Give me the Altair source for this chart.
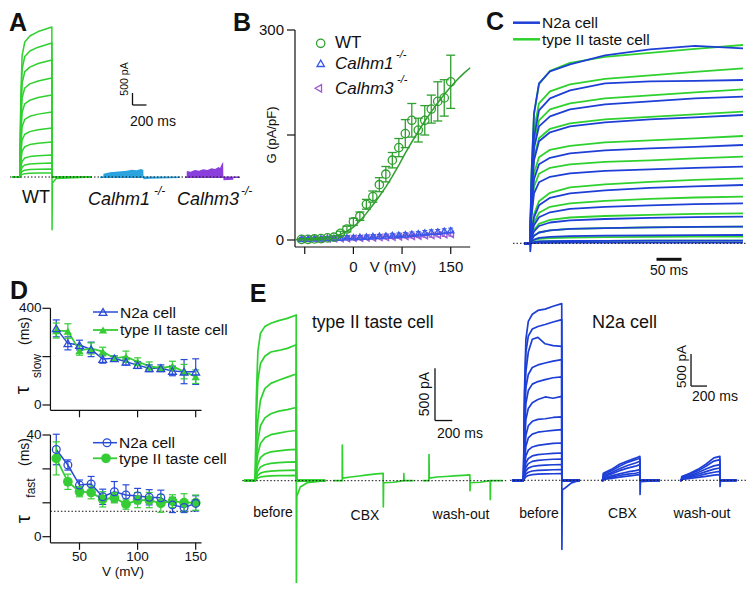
import altair as alt
import pandas as pd

# ============================ DATA ============================
# ---------- Panel A : whole-cell currents (pA) vs time (ms) ----------
A_WT_T = [30, 140, 154, 173, 211, 283, 402, 598, 600, 1170]
A_WT = {
    "wt1": [0, 0, 3250, 5060, 5625, 5875, 6060, 6250, 0, 0],
    "wt2": [0, 0, 2900, 4500, 5020, 5250, 5410, 5580, 0, 0],
    "wt3": [0, 0, 2440, 3900, 4390, 4580, 4730, 4875, 0, 0],
    "wt4": [0, 0, 2060, 3300, 3710, 3880, 4000, 4125, 0, 0],
    "wt5": [0, 0, 1650, 2700, 3050, 3200, 3310, 3420, 0, 0],
    "wt6": [0, 0, 1250, 2100, 2400, 2530, 2620, 2710, 0, 0],
    "wt7": [0, 0, 900, 1550, 1780, 1890, 1970, 2040, 0, 0],
    "wt8": [0, 0, 600, 1080, 1260, 1350, 1410, 1460, 0, 0],
    "wt9": [0, 0, 370, 660, 790, 850, 890, 917, 0, 0],
    "wt10": [0, 0, 230, 410, 500, 540, 565, 583, 0, 0],
    "wt11": [0, 0, 130, 230, 285, 310, 325, 333, 0, 0],
    "wt12": [0, 0, 60, 110, 140, 155, 162, 167, 0, 0],
}
A_WT_TAIL_T = [600, 601, 606, 660, 1170]
A_WT_TAIL = [0, -2200, -250, -60, 0]
A_C1_T = [1286, 1333, 1335, 1430, 1550, 1670, 1740, 1810, 1870, 1905, 1907, 2000, 2429]
A_C1_TOP = [25, 25, 140, 200, 230, 260, 300, 280, 330, 290, 25, 25, 25]
A_C1_BOT = [-45, -45, -45, -45, -45, -45, -45, -45, -45, -45, -90, -70, -45]
A_C3_T = [2500, 2524, 2526, 2580, 2640, 2700, 2760, 2820, 2880, 2930, 2980, 3000, 3030,
          3045, 3048, 3050, 3190, 3192, 3286]
A_C3_TOP = [25, 25, 250, 220, 290, 260, 320, 290, 360, 330, 420, 380, 560, 625, 25, 25, 25, 25, 25]
A_C3_BOT = [-45, -45, -45, -45, -45, -45, -45, -45, -45, -45, -45, -45, -45, -45, -45,
            -140, -110, -45, -45]
A_ZERO = [0, 3286]
A_BAR_X, A_BAR_X2 = [1750, 1750], [1750, 1950]      # 200 ms
A_BAR_Y, A_BAR_Y2 = [3000, 3000], [3500, 3000]      # 500 pA

# ---------- Panel B : G-V relation ----------
B_V = [-80, -70, -60, -50, -40, -30, -20, -10, 0, 10, 20, 30, 40, 50, 60, 70, 80, 90,
       100, 110, 120, 130, 140, 150]
B_WT = [1, 1, 1.5, 2, 3, 4, 9.5, 15.7, 26, 34, 51, 62, 79, 94, 114, 132, 152, 171,
        157, 171, 187, 198, 203, 226]
B_WT_SEM = [1, 1, 1, 1.5, 1.5, 2, 3, 4, 5, 6, 7, 8, 10, 11, 11, 13, 20, 24, 17, 21, 20, 28, 26, 38]
B_C1 = [2, 2, 2.5, 2.5, 3, 3, 3.5, 4, 4, 4.5, 5, 5.5, 6, 6.5, 7, 7.5, 8, 9, 9.5, 10.5,
        11.5, 12, 13, 14]
B_C1_SEM = [1.5, 1.5, 1.5, 1.5, 1.5, 1.5, 2, 2, 2, 2, 2, 2, 2, 2, 2.5, 2.5, 2.5, 2.5,
            2.5, 3, 3, 3, 3, 3]
B_C3 = [1, 1, 1.5, 1.5, 1.5, 2, 2, 2, 2.5, 2.5, 3, 3, 3.5, 3.5, 4, 4.5, 5, 5, 5.5, 6,
        6.5, 7, 7.5, 8]
B_C3_SEM = [1, 1, 1, 1, 1, 1, 1.5, 1.5, 1.5, 1.5, 1.5, 1.5, 1.5, 2, 2, 2, 2, 2, 2, 2,
            2.5, 2.5, 2.5, 2.5]
B_FIT_V = [-90, -80, -70, -60, -50, -40, -30, -20, -10, 0, 10, 20, 30, 40, 50, 60, 70,
           80, 90, 100, 110, 120, 130, 140, 150, 160, 170, 180]
B_FIT = [0.5, 0.7, 1, 1.5, 2.3, 3.5, 5.3, 8, 12.5, 18.5, 27, 38, 50, 62.5, 76, 91, 107,
         124, 140, 155, 170, 183, 196, 208, 219, 229, 238, 246]
B_X_DOMAIN = [-90, 180]
B_Y_DOMAIN = [-10, 300]
B_XTICKS = [-75, 0, 75, 150]
B_XTICK_LABELS = ["", "0", "", "150"]
B_YTICKS = [0, 150, 300]
B_YTICK_LABELS = ["0", "", "300"]

# ---------- Panel C : superimposed currents ----------
C_T = [-12, 0, 3, 8, 18, 40, 80, 150, 240, 330, 426]
C_GREEN = {
    "g1": [0, 0, 690, 1290, 1590, 1725, 1805, 1865, 1905, 1945, 1983],
    "g2": [0, 0, 610, 1140, 1400, 1520, 1590, 1645, 1680, 1715, 1750],
    "g3": [0, 0, 540, 1000, 1230, 1340, 1400, 1450, 1480, 1510, 1540],
    "g4": [0, 0, 460, 860, 1050, 1145, 1200, 1240, 1265, 1290, 1317],
    "g5": [0, 0, 375, 700, 860, 935, 975, 1010, 1030, 1050, 1073],
    "g6": [0, 0, 300, 565, 695, 755, 790, 815, 830, 850, 867],
    "g7": [0, 0, 130, 290, 420, 505, 560, 590, 615, 635, 650],
    "g8": [0, 0, 95, 210, 305, 365, 400, 425, 445, 458, 467],
    "g9": [0, 0, 60, 135, 195, 235, 258, 273, 285, 294, 300],
    "g10": [0, 0, 35, 75, 108, 130, 144, 152, 159, 164, 167],
    "g11": [0, 0, 13, 30, 44, 52, 58, 61, 64, 66, 67],
    "g12": [0, 0, 5, 12, 18, 21, 23, 25, 26, 26, 27],
}
C_BLUE = {
    "b1": [0, 0, 700, 1300, 1600, 1720, 1790, 1880, 1940, 1975, 1950],
    "b2": [0, 0, 570, 1060, 1330, 1450, 1530, 1600, 1620, 1625, 1633],
    "b3": [0, 0, 510, 950, 1170, 1270, 1340, 1390, 1420, 1450, 1467],
    "b4": [0, 0, 450, 830, 1020, 1110, 1170, 1210, 1240, 1260, 1283],
    "b5": [0, 0, 340, 640, 790, 855, 900, 930, 950, 965, 983],
    "b6": [0, 0, 270, 500, 610, 665, 700, 725, 740, 755, 767],
    "b7": [0, 0, 115, 260, 380, 455, 500, 530, 555, 570, 583],
    "b8": [0, 0, 80, 180, 260, 310, 345, 365, 380, 392, 400],
    "b9": [0, 0, 53, 120, 173, 208, 230, 243, 254, 262, 267],
    "b10": [0, 0, 33, 75, 108, 130, 144, 152, 159, 164, 167],
    "b11": [0, 0, 17, 37, 54, 65, 71, 76, 79, 81, 83],
    "b12": [0, 0, 5, 12, 18, 21, 23, 25, 26, 26, 27],
    "b13": [0, 0, 1, 3, 5, 5, 6, 6, 7, 7, 7],
}
C_ONSET_T = [0, 0.5, 2]
C_ONSET = [0, -80, 0]
C_ZERO = [-34, 446]
C_BAR_X, C_BAR_X2, C_BAR_Y, C_BAR_Y2 = [253], [303], [-160], [-160]   # 50 ms

# ---------- Panel D : time constants (ms) vs V (mV) ----------
D_V = [30, 40, 50, 60, 70, 80, 90, 100, 110, 120, 130, 140, 150]
D_SLOW_N2A = [317, 255, 248, 230, 190, 193, 179, 165, 152, 152, 141, 138, 138]
D_SLOW_N2A_SEM = [35, 27, 20, 30, 17, 10, 14, 14, 14, 14, 20, 50, 53]
D_SLOW_TASTE = [308, 306, 225, 234, 221, 193, 200, 179, 161, 152, 161, 138, 117]
D_SLOW_TASTE_SEM = [31, 30, 19, 23, 18, 10, 23, 16, 17, 8, 20, 30, 28]
D_FAST_N2A = [34.3, 28.2, 20.3, 20.7, 15.7, 17.7, 16.4, 16.0, 15.5, 15.3, 12.5, 11.5, 13.1]
D_FAST_N2A_SEM = [6, 2, 2, 3, 3, 4, 4, 3, 3, 3, 3, 2, 3]
D_FAST_TASTE = [30.8, 21.6, 17.7, 17.4, 14.7, 15.3, 12.8, 14.4, 14.4, 13.1, 14.0, 13.4, 13.4]
D_FAST_TASTE_SEM = [6.5, 3, 2, 2.5, 3, 2, 2, 3, 3, 3.5, 2.5, 3.5, 3]
D_FAST_FLOOR = [25, 152, 10]
D_X_DOMAIN = [25, 155]
D1_Y_DOMAIN = [-22, 400]
D2_Y_DOMAIN = [-2.4, 40]
D_XTICKS = [50, 100, 150]
D_XTICK_LABELS = ["50", "100", "150"]
D1_YTICKS = [0, 200, 400]
D1_YTICK_LABELS = ["0", "", "400"]
D2_YTICKS = [0, 13.33, 26.67, 40]
D2_YTICK_LABELS = ["0", "", "", "40"]

# ---------- Panel E : CBX block ----------
E_G_T = [-131, 0, 12, 30, 60, 110, 180, 270, 370, 473, 475, 809]
E_G = {
    "g1": [0, 0, 790, 1235, 1410, 1473, 1505, 1530, 1552, 1584, 0, 0],
    "g2": [0, 0, 600, 960, 1120, 1190, 1230, 1245, 1265, 1300, 0, 0],
    "g3": [0, 0, 330, 580, 770, 880, 930, 960, 990, 1020, 0, 0],
    "g4": [0, 0, 210, 385, 525, 600, 640, 665, 680, 700, 0, 0],
    "g5": [0, 0, 140, 260, 355, 410, 440, 455, 470, 480, 0, 0],
    "g6": [0, 0, 85, 160, 220, 255, 275, 285, 295, 300, 0, 0],
    "g7": [0, 0, 50, 95, 130, 152, 165, 172, 177, 180, 0, 0],
    "g8": [0, 0, 28, 52, 72, 85, 92, 96, 98, 100, 0, 0],
    "g9": [0, 0, 14, 26, 36, 42, 46, 48, 49, 50, 0, 0],
}
E_G_TAIL_T = [474, 475, 480, 520, 600, 809]
E_G_TAIL = [0, -1020, -150, -60, -20, 0]
E_G_CBX_T = [898, 1005, 1006, 1009, 1100, 1200, 1300, 1400, 1478, 1480, 1483, 1600, 1716, 1717, 1719, 1830]
E_G_CBX = [0, 0, 340, 25, 35, 45, 55, 65, 70, -250, -20, -15, 0, 67, 0, 0]
E_G_WASH_T = [1936, 2007, 2008, 2011, 2100, 2200, 2300, 2400, 2480, 2482, 2485, 2600, 2715, 2716, 2719, 2860]
E_G_WASH = [0, 0, 250, 25, 35, 40, 45, 50, 55, -95, -20, -15, 0, -180, 0, 0]
E_G_ZERO = [-150, 2900]
E_G_BAR_X, E_G_BAR_X2 = [2077, 2077], [2077, 2277]
E_G_BAR_Y, E_G_BAR_Y2 = [575, 575], [1075, 575]

E_B_T = [-144, 0, 12, 30, 60, 110, 180, 270, 370, 478, 480, 706]
E_B = {
    "b1": [0, 0, 1380, 2200, 2480, 2590, 2650, 2670, 2715, 2757, 0, 0],
    "b2": [0, 0, 1250, 2000, 2250, 2360, 2400, 2430, 2470, 2507, 0, 0],
    "b3": [0, 0, 1050, 1700, 2000, 2200, 2230, 2130, 2100, 2090, 0, 0],
    "b4": [0, 0, 900, 1450, 1650, 1760, 1800, 1830, 1860, 1883, 0, 0],
    "b5": [0, 0, 700, 1200, 1400, 1500, 1540, 1570, 1600, 1612, 0, 0],
    "b6": [0, 0, 540, 950, 1120, 1210, 1260, 1300, 1280, 1310, 0, 0],
    "b7": [0, 0, 380, 700, 850, 920, 950, 960, 980, 988, 0, 0],
    "b8": [0, 0, 280, 530, 660, 720, 750, 765, 780, 791, 0, 0],
    "b9": [0, 0, 200, 380, 470, 520, 545, 560, 575, 582, 0, 0],
    "b10": [0, 0, 140, 270, 340, 380, 400, 410, 420, 426, 0, 0],
    "b11": [0, 0, 100, 200, 260, 295, 310, 320, 328, 332, 0, 0],
    "b12": [0, 0, 70, 145, 190, 215, 230, 238, 242, 245, 0, 0],
    "b13": [0, 0, 45, 95, 125, 145, 155, 160, 164, 167, 0, 0],
    "b14": [0, 0, 25, 55, 75, 88, 95, 99, 102, 104, 0, 0],
}
E_B_TAIL_T = [479, 480, 486, 520, 600, 706]
E_B_TAIL = [0, -1077, -150, -120, -40, 0]
E_B_CBX_T = [978, 997, 998, 1100, 1200, 1300, 1400, 1455, 1456, 1706]
E_B_CBX = {
    "c1": [0, 0, 110, 170, 250, 300, 345, 374, 0, 0],
    "c2": [0, 0, 90, 150, 220, 280, 320, 343, 0, 0],
    "c3": [0, 0, 70, 120, 180, 230, 270, 296, 0, 0],
    "c4": [0, 0, 55, 100, 150, 190, 220, 245, 0, 0],
    "c5": [0, 0, 40, 70, 100, 130, 150, 167, 0, 0],
    "c6": [0, 0, 25, 50, 75, 95, 110, 125, 0, 0],
    "c7": [0, 0, 15, 30, 50, 65, 80, 89, 0, 0],
}
E_B_CBX_TAIL_T = [1456, 1457, 1462, 1706]
E_B_CBX_TAIL = [0, -220, -20, 0]
E_B_WASH_T = [1956, 1977, 1978, 2080, 2180, 2280, 2380, 2455, 2456, 2665]
E_B_WASH = {
    "w1": [0, 0, 60, 110, 170, 250, 350, 374, 0, 0],
    "w2": [0, 0, 50, 95, 150, 220, 300, 323, 0, 0],
    "w3": [0, 0, 40, 75, 120, 175, 225, 245, 0, 0],
    "w4": [0, 0, 30, 60, 95, 135, 175, 192, 0, 0],
    "w5": [0, 0, 20, 45, 70, 100, 125, 140, 0, 0],
    "w6": [0, 0, 12, 28, 45, 62, 80, 89, 0, 0],
}
E_B_WASH_TAIL_T = [2456, 2457, 2462, 2665]
E_B_WASH_TAIL = [0, -95, -10, 0]
E_B_ZERO = [-169, 2806]
E_B_BAR_X, E_B_BAR_X2 = [2094, 2094], [2094, 2294]
E_B_BAR_Y, E_B_BAR_Y2 = [1470, 1470], [1970, 1470]

# ============================ STYLE / LAYOUT ============================
M = 8                      # page margin (reference image pixel -> chart pixel)
W, H = 739, 575
FONT = "Liberation Sans"
BLACK = "#111111"
GREEN = "#2fd12f"
GREEN_B = "#2f9f2f"
DGREEN = "#35cc35"
BLUE = "#1e3fd6"
BLUE_B = "#3957e8"
DBLUE = "#2a4bd8"
PURPLE = "#8a3fdc"
PURPLE_B = "#9a5ad6"
CYAN = "#2aa3de"


def R(a, b):
    return [a - M, b - M]


def S(domain, rng):
    return alt.Scale(domain=domain, range=rng, nice=False, zero=False)


SA_X = S([0, 3300], R(10, 241))
SA_Y = S([-2500, 7000], R(237, 9))
SB_X = S(B_X_DOMAIN, R(295, 470.2))
SB_Y = S(B_Y_DOMAIN, R(247, 30))
SC_X = S([-34, 446], R(513, 753))
SC_Y = S([-300, 2200], R(273.3, 23.3))
SD_X = S(D_X_DOMAIN, R(50.45, 201.5))
SD1_Y = S(D1_Y_DOMAIN, R(410.3, 308.3))
SD2_Y = S(D2_Y_DOMAIN, R(542.8, 435))
SEG_X = S([-150, 2900], R(242.3, 506.2))
SEG_Y = S([-1200, 1800], R(606.2, 292.4))
SEB_X = S([-170, 2860], R(509.9, 752.3))
SEB_Y = S([-1200, 3000], R(557.2, 288))


def ax_x(sx):
    return alt.X("x:Q", scale=sx, axis=None)


def ax_y(sy, field="y"):
    return alt.Y(f"{field}:Q", scale=sy, axis=None)


def x_axis(ticks, labels, sx, sy, xdom, ydom, fs, tick=7, label_dy=14):
    """Igor-style bottom axis drawn along the lower edge of the y domain."""
    line = alt.Chart(pd.DataFrame({"x": [xdom[0]], "x2": [xdom[1]], "y": [ydom[0]]})).mark_rule(
        color=BLACK, strokeWidth=1.2).encode(x=ax_x(sx), x2="x2:Q", y=ax_y(sy), y2="y:Q")
    tdf = pd.DataFrame({"x": ticks, "y": [ydom[0]] * len(ticks), "lab": labels})
    tk = alt.Chart(tdf).mark_tick(orient="vertical", size=tick, thickness=1.2, color=BLACK,
                                  opacity=1, yOffset=tick / 2).encode(x=ax_x(sx), y=ax_y(sy))
    lb = alt.Chart(tdf).mark_text(font=FONT, fontSize=fs, color=BLACK, baseline="middle",
                                  dy=label_dy).encode(x=ax_x(sx), y=ax_y(sy), text="lab:N")
    return [line, tk, lb]


def y_axis(ticks, labels, sx, sy, xdom, ydom, fs, tick=8, label_dx=-10):
    """Igor-style left axis drawn along the left edge of the x domain."""
    line = alt.Chart(pd.DataFrame({"x": [xdom[0]], "y": [ydom[0]], "y2": [ydom[1]]})).mark_rule(
        color=BLACK, strokeWidth=1.2).encode(x=ax_x(sx), x2="x:Q", y=ax_y(sy), y2="y2:Q")
    tdf = pd.DataFrame({"x": [xdom[0]] * len(ticks), "y": ticks, "lab": labels})
    tk = alt.Chart(tdf).mark_tick(orient="horizontal", size=tick, thickness=1.2, color=BLACK,
                                  opacity=1, xOffset=-tick / 2).encode(x=ax_x(sx), y=ax_y(sy))
    lb = alt.Chart(tdf).mark_text(font=FONT, fontSize=fs, color=BLACK, baseline="middle",
                                  align="right", dx=label_dx).encode(x=ax_x(sx), y=ax_y(sy), text="lab:N")
    return [line, tk, lb]


def long_df(t, traces, color):
    rows = []
    for name, vals in traces.items():
        for i, (ti, vi) in enumerate(zip(t, vals)):
            rows.append({"t": ti, "v": vi, "trace": f"{name}_{color}", "i": i, "c": color})
    return pd.DataFrame(rows)


def lines(df, sx, sy, width=1.4):
    return alt.Chart(df).mark_line(strokeWidth=width, strokeJoin="round").encode(
        x=alt.X("t:Q", scale=sx, axis=None),
        y=alt.Y("v:Q", scale=sy, axis=None),
        detail="trace:N", order="i:Q",
        color=alt.Color("c:N", scale=None))


def band(t, top, bot, color, sx, sy):
    df = pd.DataFrame({"t": t, "top": top, "bot": bot})
    return alt.Chart(df).mark_area(color=color, opacity=1).encode(
        x=alt.X("t:Q", scale=sx, axis=None),
        y=alt.Y("top:Q", scale=sy, axis=None), y2="bot:Q")


def zero_line(x0, x1, sx, sy, y=0):
    df = pd.DataFrame({"x": [x0], "x2": [x1], "y": [y]})
    return alt.Chart(df).mark_rule(color=BLACK, strokeDash=[1.5, 2], strokeWidth=1).encode(
        x=ax_x(sx), x2="x2:Q", y=ax_y(sy), y2="y:Q")


def bars(xs, x2s, ys, y2s, sx, sy, width=1.3):
    df = pd.DataFrame({"x": xs, "x2": x2s, "y": ys, "y2": y2s})
    return alt.Chart(df).mark_rule(color=BLACK, strokeWidth=width).encode(
        x=ax_x(sx), x2="x2:Q", y=ax_y(sy), y2="y2:Q")


def errbars(xv, yv, sem, sx, sy, color, cap, width=1.2):
    df = pd.DataFrame({"x": xv,
                       "lo": [a - b for a, b in zip(yv, sem)],
                       "hi": [a + b for a, b in zip(yv, sem)]})
    base = alt.Chart(df)
    rule = base.mark_rule(color=color, strokeWidth=width).encode(
        x=ax_x(sx), y=ax_y(sy, "lo"), y2="hi:Q")
    top = base.mark_tick(color=color, orient="horizontal", size=cap, thickness=width, opacity=1).encode(
        x=ax_x(sx), y=ax_y(sy, "hi"))
    bot = base.mark_tick(color=color, orient="horizontal", size=cap, thickness=width, opacity=1).encode(
        x=ax_x(sx), y=ax_y(sy, "lo"))
    return [rule, top, bot]


def points(xv, yv, sx, sy, color, shape, size, filled, sw=1.3):
    df = pd.DataFrame({"x": xv, "y": yv})
    return alt.Chart(df).mark_point(shape=shape, color=color, size=size, filled=filled,
                                    opacity=1, strokeWidth=sw).encode(x=ax_x(sx), y=ax_y(sy))


def xyline(xv, yv, sx, sy, color, width=1.5):
    df = pd.DataFrame({"x": xv, "y": yv})
    return alt.Chart(df).mark_line(color=color, strokeWidth=width).encode(x=ax_x(sx), y=ax_y(sy))


def one():
    return pd.DataFrame({"k": [0]})


def txt(s, x, y, size, align="center", angle=0, style="normal", weight="normal",
        baseline="middle", color=BLACK):
    return alt.Chart(pd.DataFrame({"s": [s]})).mark_text(
        align=align, baseline=baseline, angle=angle, fontSize=size,
        fontStyle=style, fontWeight=weight, font=FONT, color=color
    ).encode(x=alt.value(x - M), y=alt.value(y - M), text="s:N")


def letter(s, x, y_base):
    return txt(s, x, y_base, 25, weight="bold", baseline="alphabetic")


def glyph_line(x0, x1, y, color, width=1.5):
    return alt.Chart(one()).mark_rule(color=color, strokeWidth=width).encode(
        x=alt.value(x0 - M), x2=alt.value(x1 - M), y=alt.value(y - M), y2=alt.value(y - M))


def glyph_point(x, y, shape, color, size, filled):
    return alt.Chart(one()).mark_point(shape=shape, color=color, size=size, filled=filled,
                                       opacity=1, strokeWidth=1.3).encode(
        x=alt.value(x - M), y=alt.value(y - M))


# ============================ PANEL A ============================
a_df = pd.concat([long_df(A_WT_T, A_WT, GREEN),
                  long_df(A_WT_TAIL_T, {"tail": A_WT_TAIL}, GREEN)])
panel_a = alt.layer(
    band(A_C1_T, A_C1_TOP, A_C1_BOT, CYAN, SA_X, SA_Y),
    band(A_C3_T, A_C3_TOP, A_C3_BOT, PURPLE, SA_X, SA_Y),
    lines(a_df, SA_X, SA_Y, 1.5),
    zero_line(A_ZERO[0], A_ZERO[1], SA_X, SA_Y),
    bars(A_BAR_X, A_BAR_X2, A_BAR_Y, A_BAR_Y2, SA_X, SA_Y),
)
texts_a = [
    letter("A", 18, 31),
    txt("WT", 36, 198, 18),
    txt("Calhm1", 88, 200, 18, align="left", style="italic"),
    txt("-/-", 154, 191, 12, align="left", style="italic"),
    txt("Calhm3", 177, 200, 18, align="left", style="italic"),
    txt("-/-", 241, 191, 12, align="left", style="italic"),
    txt("500 pA", 125, 79, 10.5, angle=270),
    txt("200 ms", 153, 122, 14),
]

# ============================ PANEL B ============================
panel_b = alt.layer(
    *x_axis(B_XTICKS, B_XTICK_LABELS, SB_X, SB_Y, B_X_DOMAIN, B_Y_DOMAIN, 15, 7, 20),
    *y_axis(B_YTICKS, B_YTICK_LABELS, SB_X, SB_Y, B_X_DOMAIN, B_Y_DOMAIN, 15, 8, -11),
    xyline(B_FIT_V, B_FIT, SB_X, SB_Y, GREEN_B, 1.5),
    *errbars(B_V, B_C3, B_C3_SEM, SB_X, SB_Y, PURPLE_B, 5, 1),
    points(B_V, B_C3, SB_X, SB_Y, PURPLE_B, "triangle-left", 40, False),
    *errbars(B_V, B_C1, B_C1_SEM, SB_X, SB_Y, BLUE_B, 5, 1),
    points(B_V, B_C1, SB_X, SB_Y, BLUE_B, "triangle-up", 40, False),
    *errbars(B_V, B_WT, B_WT_SEM, SB_X, SB_Y, GREEN_B, 9, 1.3),
    points(B_V, B_WT, SB_X, SB_Y, GREEN_B, "circle", 70, False),
)
texts_b = [
    letter("B", 242, 31),
    glyph_point(320.7, 43.3, "circle", GREEN_B, 70, False),
    glyph_point(320.7, 63.3, "triangle-up", BLUE_B, 55, False),
    glyph_point(318.3, 88.3, "triangle-left", PURPLE_B, 55, False),
    txt("WT", 335, 43, 17, align="left"),
    txt("Calhm1", 335, 64, 17, align="left", style="italic"),
    txt("-/-", 396, 55, 11, align="left", style="italic"),
    txt("Calhm3", 335, 88.5, 17, align="left", style="italic"),
    txt("-/-", 397, 80, 11, align="left", style="italic"),
    txt("G (pA/pF)", 272, 135, 13, angle=270),
    txt("V (mV)", 393, 267, 15),
]

# ============================ PANEL C ============================
c_df = pd.concat([long_df(C_T, C_GREEN, GREEN), long_df(C_T, C_BLUE, BLUE),
                  long_df(C_ONSET_T, {"on": C_ONSET}, BLUE)])
panel_c = alt.layer(
    lines(c_df, SC_X, SC_Y, 1.8),
    zero_line(C_ZERO[0], C_ZERO[1], SC_X, SC_Y),
    bars(C_BAR_X, C_BAR_X2, C_BAR_Y, C_BAR_Y2, SC_X, SC_Y, 3),
)
texts_c = [
    letter("C", 495, 30),
    glyph_line(513, 540, 22.7, BLUE, 2.5),
    glyph_line(513, 540, 39.3, GREEN, 2.5),
    txt("N2a cell", 542, 22.5, 15.5, align="left"),
    txt("type II taste cell", 542, 39.5, 15.5, align="left"),
    txt("50 ms", 669, 271, 14),
]

# ============================ PANEL D ============================
panel_d1 = alt.layer(
    *x_axis(D_XTICKS, ["", "", ""], SD_X, SD1_Y, D_X_DOMAIN, D1_Y_DOMAIN, 13.5, 7, 14),
    *y_axis(D1_YTICKS, D1_YTICK_LABELS, SD_X, SD1_Y, D_X_DOMAIN, D1_Y_DOMAIN, 13.5, 8, -9),
    xyline(D_V, D_SLOW_N2A, SD_X, SD1_Y, DBLUE, 1.5),
    xyline(D_V, D_SLOW_TASTE, SD_X, SD1_Y, DGREEN, 1.8),
    *errbars(D_V, D_SLOW_N2A, D_SLOW_N2A_SEM, SD_X, SD1_Y, DBLUE, 7, 1.2),
    *errbars(D_V, D_SLOW_TASTE, D_SLOW_TASTE_SEM, SD_X, SD1_Y, DGREEN, 7, 1.2),
    points(D_V, D_SLOW_TASTE, SD_X, SD1_Y, DGREEN, "triangle-up", 70, True),
    points(D_V, D_SLOW_N2A, SD_X, SD1_Y, DBLUE, "triangle-up", 60, False),
)
panel_d2 = alt.layer(
    *x_axis(D_XTICKS, D_XTICK_LABELS, SD_X, SD2_Y, D_X_DOMAIN, D2_Y_DOMAIN, 13.5, 7, 14),
    *y_axis(D2_YTICKS, D2_YTICK_LABELS, SD_X, SD2_Y, D_X_DOMAIN, D2_Y_DOMAIN, 13.5, 8, -9),
    xyline(D_V, D_FAST_N2A, SD_X, SD2_Y, DBLUE, 1.5),
    xyline(D_V, D_FAST_TASTE, SD_X, SD2_Y, DGREEN, 1.8),
    zero_line(D_FAST_FLOOR[0], D_FAST_FLOOR[1], SD_X, SD2_Y, D_FAST_FLOOR[2]),
    *errbars(D_V, D_FAST_N2A, D_FAST_N2A_SEM, SD_X, SD2_Y, DBLUE, 7, 1.2),
    *errbars(D_V, D_FAST_TASTE, D_FAST_TASTE_SEM, SD_X, SD2_Y, DGREEN, 7, 1.2),
    points(D_V, D_FAST_TASTE, SD_X, SD2_Y, DGREEN, "circle", 95, True),
    points(D_V, D_FAST_N2A, SD_X, SD2_Y, DBLUE, "circle", 60, False),
)
texts_d = [
    letter("D", 19, 299),
    txt("τ", 23, 390, 21, angle=270),
    txt("slow", 37, 366, 12, angle=270),
    txt("(ms)", 25, 331, 14, angle=270),
    txt("τ", 24, 519, 21, angle=270),
    txt("fast", 31, 488, 12, angle=270),
    txt("(ms)", 25, 452, 14, angle=270),
    glyph_line(93, 118, 312, DBLUE, 1.5),
    glyph_point(103, 312, "triangle-up", DBLUE, 60, False),
    glyph_line(93, 118, 330, DGREEN, 1.8),
    glyph_point(103, 330, "triangle-up", DGREEN, 70, True),
    txt("N2a cell", 120, 312.5, 15.5, align="left"),
    txt("type II taste cell", 120, 330, 15.5, align="left"),
    glyph_line(93, 117, 442.7, DBLUE, 1.5),
    glyph_point(107, 442.7, "circle", DBLUE, 60, False),
    glyph_line(93, 117, 458.3, DGREEN, 1.8),
    glyph_point(106, 458.3, "circle", DGREEN, 95, True),
    txt("N2a cell", 119, 443, 15.5, align="left"),
    txt("type II taste cell", 119, 458.5, 15.5, align="left"),
    txt("V (mV)", 123, 572, 13.5),
]

# ============================ PANEL E ============================
eg_df = pd.concat([
    long_df(E_G_T, E_G, GREEN),
    long_df(E_G_TAIL_T, {"tail": E_G_TAIL}, GREEN),
    long_df(E_G_CBX_T, {"cbx": E_G_CBX}, GREEN),
    long_df(E_G_WASH_T, {"wash": E_G_WASH}, GREEN),
])
panel_eg = alt.layer(
    lines(eg_df, SEG_X, SEG_Y, 1.7),
    zero_line(E_G_ZERO[0], E_G_ZERO[1], SEG_X, SEG_Y),
    bars(E_G_BAR_X, E_G_BAR_X2, E_G_BAR_Y, E_G_BAR_Y2, SEG_X, SEG_Y),
)
eb_df = pd.concat([
    long_df(E_B_T, E_B, BLUE),
    long_df(E_B_TAIL_T, {"tail": E_B_TAIL}, BLUE),
    long_df(E_B_CBX_T, E_B_CBX, BLUE),
    long_df(E_B_CBX_TAIL_T, {"ctail": E_B_CBX_TAIL}, BLUE),
    long_df(E_B_WASH_T, E_B_WASH, BLUE),
    long_df(E_B_WASH_TAIL_T, {"wtail": E_B_WASH_TAIL}, BLUE),
])
panel_eb = alt.layer(
    lines(eb_df, SEB_X, SEB_Y, 1.7),
    zero_line(E_B_ZERO[0], E_B_ZERO[1], SEB_X, SEB_Y),
    bars(E_B_BAR_X, E_B_BAR_X2, E_B_BAR_Y, E_B_BAR_Y2, SEB_X, SEB_Y),
)
texts_e = [
    letter("E", 258, 302),
    txt("type II taste cell", 312, 323, 17.5, align="left"),
    txt("N2a cell", 592, 323, 18, align="left"),
    txt("before", 273, 513, 14),
    txt("CBX", 365, 516, 14),
    txt("wash-out", 461, 515, 14),
    txt("before", 539, 514, 14),
    txt("CBX", 622.5, 514, 14),
    txt("wash-out", 702, 514, 14),
    txt("500 pA", 425, 394, 14, angle=270),
    txt("200 ms", 460, 434, 14),
    txt("500 pA", 682, 366.5, 13.5, angle=270),
    txt("200 ms", 715, 397, 14),
]

chart = alt.layer(
    panel_a, panel_b, panel_c, panel_d1, panel_d2, panel_eg, panel_eb,
    *texts_a, *texts_b, *texts_c, *texts_d, *texts_e,
).resolve_scale(
    x="independent", y="independent"
).properties(
    width=W, height=H, autosize=alt.AutoSizeParams(type="none"), padding=0,
    background="white",
).configure_view(stroke=None)

chart.save("out.html", embed_options={"renderer": "svg", "actions": False})
